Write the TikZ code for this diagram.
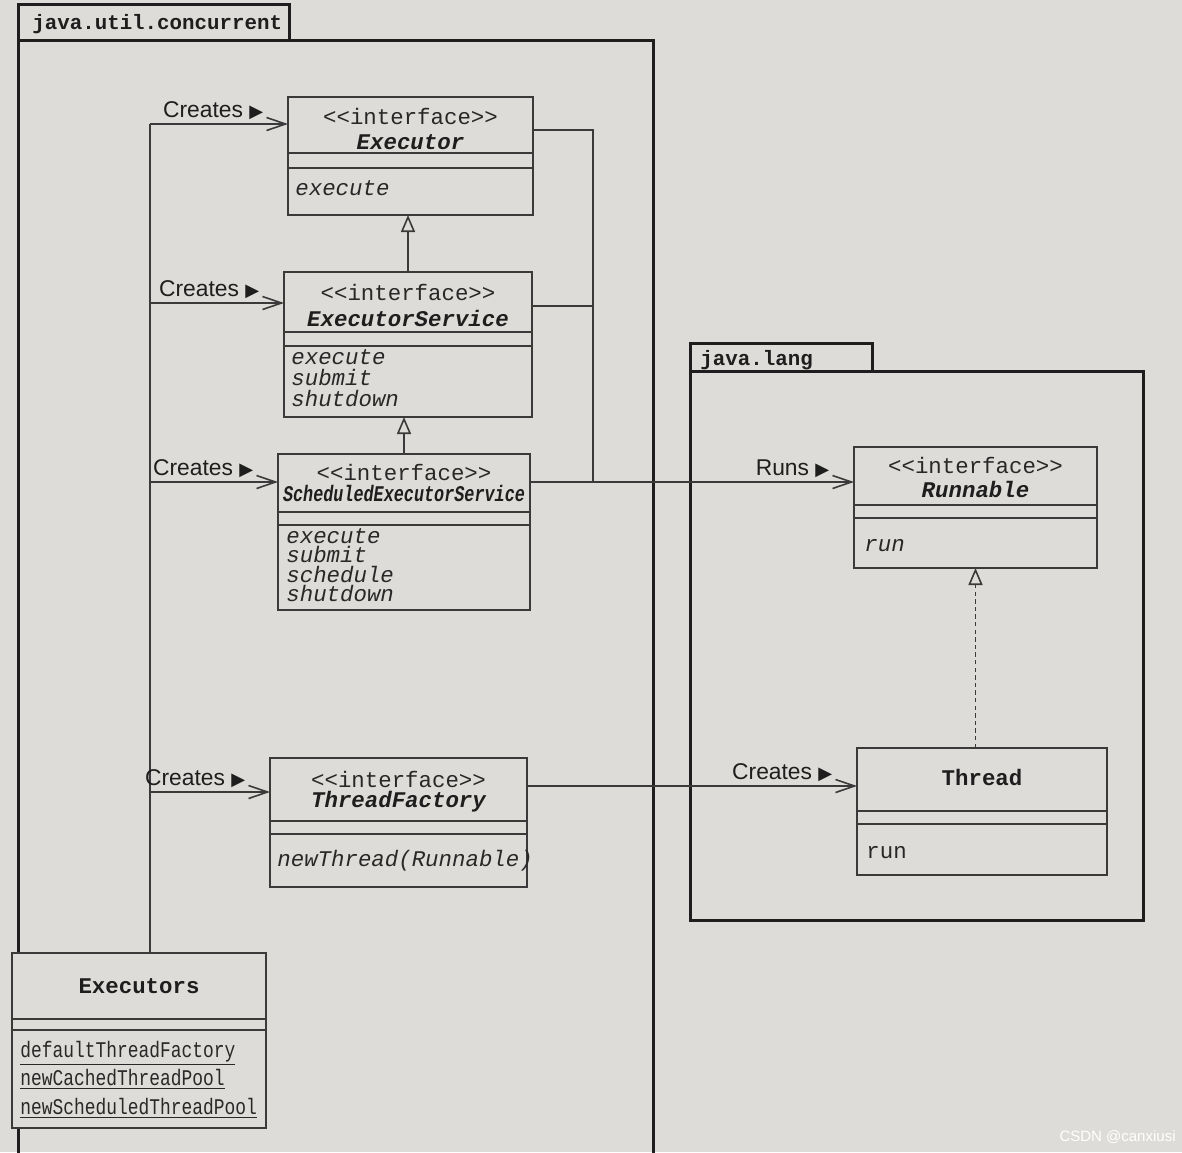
\documentclass[tikz,border=0pt]{standalone}
\usepackage{fontspec}
\usepackage{graphicx}
\usetikzlibrary{positioning,arrows.meta,fit}
\newfontfamily\umlmono{Liberation Mono}
\newfontfamily\umlsans{Liberation Sans}
\newfontfamily\umlsym{DejaVu Sans}
\definecolor{paper}{RGB}{221,220,216}
\definecolor{ink}{RGB}{58,58,58}
\definecolor{textink}{RGB}{40,40,40}
\definecolor{pkgink}{RGB}{30,30,30}
\newcommand{\navtri}{{\umlsym\fontsize{9}{9}\selectfont ▶}}
\tikzset{
  pkg/.style     ={draw=pkgink, line width=1.5pt},
  pkgname/.style ={font=\umlmono\bfseries\fontsize{10.4}{10.4}\selectfont, text=pkgink, anchor=base west, inner sep=0pt},
  cls/.style     ={draw=ink, fill=paper, line width=0.8pt, inner sep=0pt, outer sep=0pt},
  divider/.style ={draw=ink, line width=0.8pt},
  stereo/.style  ={font=\umlmono\fontsize{11.2}{11.2}\selectfont, text=textink, anchor=base, inner sep=0pt},
  cname/.style   ={font=\umlmono\bfseries\itshape\fontsize{11.2}{11.2}\selectfont, text=pkgink, anchor=base, inner sep=0pt},
  ctitle/.style  ={font=\umlmono\bfseries\fontsize{11.2}{11.2}\selectfont, text=pkgink, anchor=base, inner sep=0pt},
  op/.style      ={font=\umlmono\itshape\fontsize{11.2}{11.2}\selectfont, text=textink, anchor=base west, inner sep=0pt},
  opup/.style    ={op, font=\umlmono\fontsize{11.2}{11.2}\selectfont},
  wire/.style    ={draw=ink, line width=0.8pt},
  assoc/.style   ={wire, -{Straight Barb[length=9.5pt,width=6.5pt]}},
  inherit/.style ={wire, -{Triangle[open,length=8.5pt,width=7pt,fill=paper]}},
  realize/.style ={inherit, dash pattern=on 2.2pt off 1.6pt},
  lbl/.style     ={font=\umlsans\fontsize{11.4}{11.4}\selectfont, text=pkgink, anchor=base east, inner sep=0pt, xshift=-12pt, yshift=3.3pt},
}
\begin{document}
\begin{tikzpicture}[x=0.5pt, y=-0.5pt]
  \fill[paper] (0,0) rectangle (1182,1152);
  \useasboundingbox (0,0) rectangle (1182,1152);
  \clip (0,0) rectangle (1182,1152);

  % packages
  \draw[pkg] (18,40) rectangle (289,4);
  \node[pkgname] (juc) at (32,29) {java.util.concurrent};
  \draw[pkg] (18,1170) -- (18,40) -- (653,40) -- (653,1170);
  \draw[pkg] (690,371) rectangle (872,343);
  \node[pkgname] (jl) at (700,365) {java.lang};
  \draw[pkg] (690,371) rectangle (1143,920);

  % java.util.concurrent classes
  \node[cls, fit={(288,97) (533,215)}] (executor) {};
  \draw[divider] (288,153) -- (533,153) (288,168) -- (533,168);
  \node[stereo] (executor-st) at (executor.north |- 0,124) {<<interface>>};
  \node[cname] (executor-nm) at (executor.north |- 0,149) {Executor};
  \node[op] (executor-op) at (295,195) {execute};

  \node[cls, fit={(284,272) (532,417)}] (es) {};
  \draw[divider] (284,332) -- (532,332) (284,346) -- (532,346);
  \node[stereo] (es-st) at (es.north |- 0,300) {<<interface>>};
  \node[cname] (es-nm) at (es.north |- 0,326) {ExecutorService};
  \foreach \m [count=\i] in {execute,submit,shutdown}
    \node[op] (es-op\i) at (291,{343+21*\i}) {\m};

  \node[cls, fit={(278,454) (530,610)}] (ses) {};
  \draw[divider] (278,512) -- (530,512) (278,525) -- (530,525);
  \node[stereo] (ses-st) at (ses.north |- 0,480) {<<interface>>};
  \node[cname] (ses-nm) at (ses.north |- 0,501) {\scalebox{0.75}[1]{ScheduledExecutorService}};
  \foreach \m [count=\i] in {execute,submit,schedule,shutdown}
    \node[op] (ses-op\i) at (286,{523.5+19.5*\i}) {\m};

  \node[cls, fit={(270,758) (527,887)}] (tf) {};
  \draw[divider] (270,821) -- (527,821) (270,834) -- (527,834);
  \node[stereo] (tf-st) at (tf.north |- 0,787) {<<interface>>};
  \node[cname] (tf-nm) at (tf.north |- 0,807) {ThreadFactory};
  \node[op] (tf-op) at (277,866) {newThread(Runnable)};

  \node[cls, fit={(12,953) (266,1128)}] (executors) {};
  \draw[divider] (12,1019) -- (266,1019) (12,1030) -- (266,1030);
  \node[ctitle] (executors-nm) at (executors.north |- 0,993) {Executors};
  \foreach \m [count=\i] in {defaultThreadFactory,newCachedThreadPool,newScheduledThreadPool}
    \node[opup] (executors-op\i) at (20,{1028.5+28.5*\i}) {\scalebox{0.8}[1]{\underline{\m}}};

  % java.lang classes
  \node[cls, fit={(854,447) (1097,568)}] (runnable) {};
  \draw[divider] (854,505) -- (1097,505) (854,518) -- (1097,518);
  \node[stereo] (runnable-st) at (runnable.north |- 0,473) {<<interface>>};
  \node[cname] (runnable-nm) at (runnable.north |- 0,497) {Runnable};
  \node[op] (runnable-op) at (864,551) {run};

  \node[cls, fit={(857,748) (1107,875)}] (thread) {};
  \draw[divider] (857,811) -- (1107,811) (857,824) -- (1107,824);
  \node[ctitle] (thread-nm) at (thread.north |- 0,785) {Thread};
  \node[opup] (thread-op) at (866,858) {run};

  % Executors creates ...
  \coordinate (spine) at (150,0);
  \draw[wire] (executors.north -| spine) -- (spine |- 0,124);
  \draw[assoc] (spine |- 0,124) -- (executor.west |- 0,124) node[lbl] {Creates \navtri};
  \draw[assoc] (spine |- 0,303) -- (es.west |- 0,303) node[lbl] {Creates \navtri};
  \draw[assoc] (spine |- 0,482) -- (ses.west |- 0,482) node[lbl] {Creates \navtri};
  \draw[assoc] (spine |- 0,792) -- (tf.west |- 0,792) node[lbl] {Creates \navtri};

  % runs / creates across packages
  \coordinate (riser) at (593,482);
  \draw[wire] (executor.east |- 0,130) -| (riser);
  \draw[wire] (es.east |- 0,306) -- (riser |- 0,306);
  \draw[assoc] (ses.east |- riser) -- (runnable.west |- riser) node[lbl] {Runs \navtri};
  \draw[assoc] (tf.east |- 0,786) -- (thread.west |- 0,786) node[lbl] {Creates \navtri};

  % generalization and realization
  \draw[inherit] (es.north) -- (es.north |- executor.south);
  \draw[inherit] (ses.north) -- (ses.north |- es.south);
  \draw[realize] (runnable.south |- thread.north) -- (runnable.south);

  \node[font=\umlsans\fontsize{7.5}{7.5}\selectfont, text=white, anchor=east, inner sep=0pt] (watermark) at (1176,1137) {CSDN @canxiusi};
\end{tikzpicture}
\end{document}
